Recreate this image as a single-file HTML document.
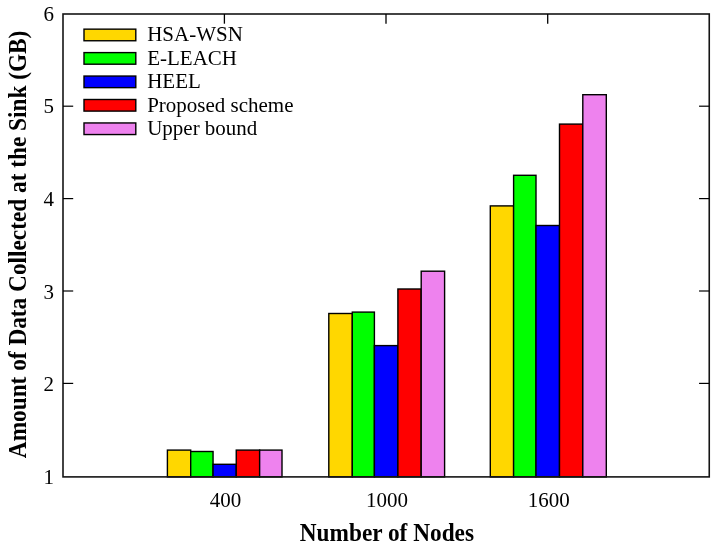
<!DOCTYPE html>
<html><head><meta charset="utf-8"><title>Chart</title>
<style>
html,body{margin:0;padding:0;background:#fff;}
body{width:722px;height:549px;overflow:hidden;}
svg{display:block;}
text{font-family:"Liberation Serif",serif;fill:#000;}
.b{font-weight:bold;}
</style></head><body>
<svg width="722" height="549" viewBox="0 0 722 549">
<rect x="0" y="0" width="722" height="549" fill="#fff"/>
<rect x="167.40" y="450.10" width="23.30" height="26.80" fill="#FFD700" stroke="#000" stroke-width="1.4"/>
<rect x="190.70" y="451.50" width="22.35" height="25.40" fill="#00FF00" stroke="#000" stroke-width="1.4"/>
<rect x="213.05" y="464.30" width="23.20" height="12.60" fill="#0000FF" stroke="#000" stroke-width="1.4"/>
<rect x="236.25" y="450.10" width="23.40" height="26.80" fill="#FF0000" stroke="#000" stroke-width="1.4"/>
<rect x="259.65" y="450.10" width="22.35" height="26.80" fill="#EE82EE" stroke="#000" stroke-width="1.4"/>
<rect x="328.80" y="313.50" width="23.50" height="163.40" fill="#FFD700" stroke="#000" stroke-width="1.4"/>
<rect x="352.30" y="312.10" width="22.10" height="164.80" fill="#00FF00" stroke="#000" stroke-width="1.4"/>
<rect x="374.40" y="345.60" width="23.50" height="131.30" fill="#0000FF" stroke="#000" stroke-width="1.4"/>
<rect x="397.90" y="289.00" width="23.30" height="187.90" fill="#FF0000" stroke="#000" stroke-width="1.4"/>
<rect x="421.20" y="271.20" width="23.40" height="205.70" fill="#EE82EE" stroke="#000" stroke-width="1.4"/>
<rect x="490.30" y="205.90" width="23.30" height="271.00" fill="#FFD700" stroke="#000" stroke-width="1.4"/>
<rect x="513.60" y="175.30" width="22.40" height="301.60" fill="#00FF00" stroke="#000" stroke-width="1.4"/>
<rect x="536.00" y="225.50" width="23.50" height="251.40" fill="#0000FF" stroke="#000" stroke-width="1.4"/>
<rect x="559.50" y="124.10" width="23.30" height="352.80" fill="#FF0000" stroke="#000" stroke-width="1.4"/>
<rect x="582.80" y="94.70" width="23.50" height="382.20" fill="#EE82EE" stroke="#000" stroke-width="1.4"/>
<rect x="63.0" y="14.0" width="646.25" height="462.9" fill="none" stroke="#141414" stroke-width="1.6"/>
<line x1="224.4" y1="14.0" x2="224.4" y2="23.7" stroke="#000" stroke-width="1.3"/>
<line x1="386.0" y1="14.0" x2="386.0" y2="23.7" stroke="#000" stroke-width="1.3"/>
<line x1="547.7" y1="14.0" x2="547.7" y2="23.7" stroke="#000" stroke-width="1.3"/>
<line x1="63.0" y1="383.40" x2="73.2" y2="383.40" stroke="#000" stroke-width="1.2"/>
<line x1="709.25" y1="383.40" x2="699.05" y2="383.40" stroke="#000" stroke-width="1.2"/>
<line x1="63.0" y1="291.00" x2="73.2" y2="291.00" stroke="#000" stroke-width="1.2"/>
<line x1="709.25" y1="291.00" x2="699.05" y2="291.00" stroke="#000" stroke-width="1.2"/>
<line x1="63.0" y1="198.60" x2="73.2" y2="198.60" stroke="#000" stroke-width="1.2"/>
<line x1="709.25" y1="198.60" x2="699.05" y2="198.60" stroke="#000" stroke-width="1.2"/>
<line x1="63.0" y1="106.20" x2="73.2" y2="106.20" stroke="#000" stroke-width="1.2"/>
<line x1="709.25" y1="106.20" x2="699.05" y2="106.20" stroke="#000" stroke-width="1.2"/>
<text transform="translate(54.00,483.70) scale(1,1.03)" font-size="21" text-anchor="end">1</text>
<text transform="translate(54.00,391.12) scale(1,1.03)" font-size="21" text-anchor="end">2</text>
<text transform="translate(54.00,298.54) scale(1,1.03)" font-size="21" text-anchor="end">3</text>
<text transform="translate(54.00,205.96) scale(1,1.03)" font-size="21" text-anchor="end">4</text>
<text transform="translate(54.00,113.38) scale(1,1.03)" font-size="21" text-anchor="end">5</text>
<text transform="translate(54.00,20.80) scale(1,1.03)" font-size="21" text-anchor="end">6</text>
<text transform="translate(225.40,507.10) scale(1,1.03)" font-size="21" text-anchor="middle">400</text>
<text transform="translate(387.00,507.10) scale(1,1.03)" font-size="21" text-anchor="middle">1000</text>
<text transform="translate(548.70,507.10) scale(1,1.03)" font-size="21" text-anchor="middle">1600</text>
<rect x="84" y="29.15" width="51.8" height="11.6" fill="#FFD700" stroke="#000" stroke-width="1.4"/>
<text transform="translate(147.20,41.35) scale(1,1.03)" font-size="21" text-anchor="start">HSA-WSN</text>
<rect x="84" y="52.60" width="51.8" height="11.6" fill="#00FF00" stroke="#000" stroke-width="1.4"/>
<text transform="translate(147.20,64.75) scale(1,1.03)" font-size="21" text-anchor="start">E-LEACH</text>
<rect x="84" y="76.05" width="51.8" height="11.6" fill="#0000FF" stroke="#000" stroke-width="1.4"/>
<text transform="translate(147.20,88.15) scale(1,1.03)" font-size="21" text-anchor="start">HEEL</text>
<rect x="84" y="99.50" width="51.8" height="11.6" fill="#FF0000" stroke="#000" stroke-width="1.4"/>
<text transform="translate(147.20,111.55) scale(1,1.03)" font-size="21" text-anchor="start">Proposed scheme</text>
<rect x="84" y="122.95" width="51.8" height="11.6" fill="#EE82EE" stroke="#000" stroke-width="1.4"/>
<text transform="translate(147.20,134.95) scale(1,1.03)" font-size="21" text-anchor="start">Upper bound</text>
<text class="b" transform="translate(386.90,541.00) scale(1,1.05)" font-size="23.3" text-anchor="middle">Number of Nodes</text>
<text class="b" transform="translate(26.10,244.40) rotate(-90) scale(1,1.05)" font-size="23.3" text-anchor="middle">Amount of Data Collected at the Sink (GB)</text>
</svg></body></html>
